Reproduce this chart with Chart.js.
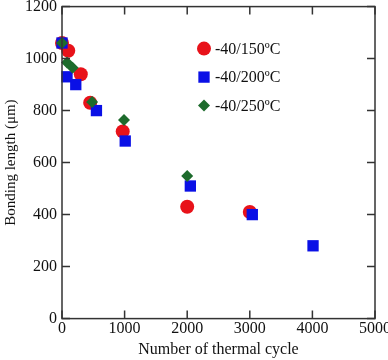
<!DOCTYPE html>
<html lang="en">
<head>
    <meta charset="UTF-8">
    <title>Bonding length vs thermal cycle</title>
    <script src="https://cdn.jsdelivr.net/npm/chart.js"></script>
    <style>
        html, body {
            margin: 0;
            padding: 0;
            background: #fff;
            overflow: hidden;
        }
        .wrap {
            position: relative;
            width: 392px;
            height: 368px;
            margin-top: -8px;
        }
    </style>
</head>
<body>
<div class="wrap">
    <canvas id="cycleChart"></canvas>
</div>
<script>
    // values
    const seriesNames = ['-40/150ºC', '-40/200ºC', '-40/250ºC'];

    const cycles150 = [0, 100, 300, 450, 970, 2000, 3000];
    const length150 = [1060, 1030, 940, 830, 720, 430, 410];

    const cycles200 = [0, 80, 220, 550, 1010, 2050, 3040, 4010];
    const length200 = [1060, 930, 900, 800, 683, 510, 400, 280];

    const cycles250 = [0, 80, 170, 480, 990, 2000];
    const length250 = [1060, 985, 965, 833, 764, 548];

    const xTicks = [0, 1000, 2000, 3000, 4000, 5000];
    const yTicks = [0, 200, 400, 600, 800, 1000, 1200];

    const toPoints = (xs, ys) => xs.map((x, i) => ({ x: x, y: ys[i] }));

    const serif = "'Liberation Serif', 'DejaVu Serif', serif";

    // inward ticks on all four sides plus the frame
    const frameTicks = {
        id: 'frameTicks',
        afterDraw(chart) {
            const { ctx, chartArea: a, scales } = chart;
            const len = 8;
            ctx.save();
            ctx.strokeStyle = '#333';
            ctx.lineWidth = 1.5;
            ctx.strokeRect(a.left, a.top, a.right - a.left, a.bottom - a.top);
            ctx.beginPath();
            xTicks.forEach(v => {
                const px = scales.x.getPixelForValue(v);
                ctx.moveTo(px, a.bottom); ctx.lineTo(px, a.bottom - len);
                ctx.moveTo(px, a.top); ctx.lineTo(px, a.top + len);
            });
            yTicks.forEach(v => {
                const py = scales.y.getPixelForValue(v);
                ctx.moveTo(a.left, py); ctx.lineTo(a.left + len, py);
                ctx.moveTo(a.right, py); ctx.lineTo(a.right - len, py);
            });
            ctx.stroke();
            ctx.restore();
        }
    };

    // legend drawn inside the plot, upper right
    const insideLegend = {
        id: 'insideLegend',
        afterDatasetsDraw(chart) {
            const { ctx, chartArea: a } = chart;
            const x0 = a.left + 142;
            const y0 = a.top + 42;
            const gap = 28.5;
            ctx.save();
            ctx.font = '16px ' + serif;
            ctx.textBaseline = 'middle';
            chart.data.datasets.forEach((ds, i) => {
                const y = y0 + i * gap;
                ctx.fillStyle = ds.backgroundColor;
                ctx.strokeStyle = ds.backgroundColor;
                Chart.helpers.drawPoint(ctx, {
                    pointStyle: ds.pointStyle,
                    radius: ds.pointRadius,
                    rotation: 0,
                    borderWidth: 0
                }, x0, y);
                ctx.fillStyle = '#111';
                ctx.fillText(ds.label, x0 + 11, y + 1);
            });
            ctx.restore();
        }
    };

    new Chart(document.getElementById('cycleChart'), {
        type: 'scatter',
        data: {
            datasets: [
                {
                    label: seriesNames[0],
                    data: toPoints(cycles150, length150),
                    pointStyle: 'circle',
                    pointRadius: 7,
                    backgroundColor: '#e8121a',
                    borderColor: '#e8121a',
                    borderWidth: 0,
                    clip: false,
                    order: 2
                },
                {
                    label: seriesNames[1],
                    data: toPoints(cycles200, length200),
                    pointStyle: 'rect',
                    pointRadius: 8,
                    backgroundColor: '#0a10e6',
                    borderColor: '#0a10e6',
                    borderWidth: 0,
                    clip: false,
                    order: 1
                },
                {
                    label: seriesNames[2],
                    data: toPoints(cycles250, length250),
                    pointStyle: 'rectRot',
                    pointRadius: 6,
                    backgroundColor: '#1d6b2c',
                    borderColor: '#1d6b2c',
                    borderWidth: 0,
                    clip: false,
                    order: 0
                }
            ]
        },
        options: {
            responsive: true,
            maintainAspectRatio: false,
            animation: false,
            layout: { padding: { top: 0, right: 0, bottom: 1, left: 0 } },
            plugins: {
                legend: { display: false },
                tooltip: { enabled: false }
            },
            scales: {
                x: {
                    type: 'linear',
                    min: 0,
                    max: 5000,
                    afterBuildTicks: s => { s.ticks = xTicks.map(v => ({ value: v })); },
                    grid: { display: false, drawTicks: false },
                    border: { display: false },
                    ticks: {
                        color: '#111',
                        padding: 1,
                        maxRotation: 0,
                        callback: v => String(v),
                        font: { family: serif, size: 16 }
                    },
                    title: {
                        display: true,
                        text: 'Number of thermal cycle',
                        color: '#111',
                        padding: { top: 0, bottom: 0 },
                        font: { family: serif, size: 16 }
                    }
                },
                y: {
                    type: 'linear',
                    min: 0,
                    max: 1200,
                    afterBuildTicks: s => { s.ticks = yTicks.map(v => ({ value: v })); },
                    grid: { display: false, drawTicks: false },
                    border: { display: false },
                    ticks: {
                        color: '#111',
                        padding: 5,
                        callback: v => String(v),
                        font: { family: serif, size: 16 }
                    },
                    title: {
                        display: true,
                        text: 'Bonding length (μm)',
                        color: '#111',
                        padding: { top: 2, bottom: 0 },
                        font: { family: serif, size: 15 }
                    }
                }
            }
        },
        plugins: [frameTicks, insideLegend]
    });
</script>
</body>
</html>
